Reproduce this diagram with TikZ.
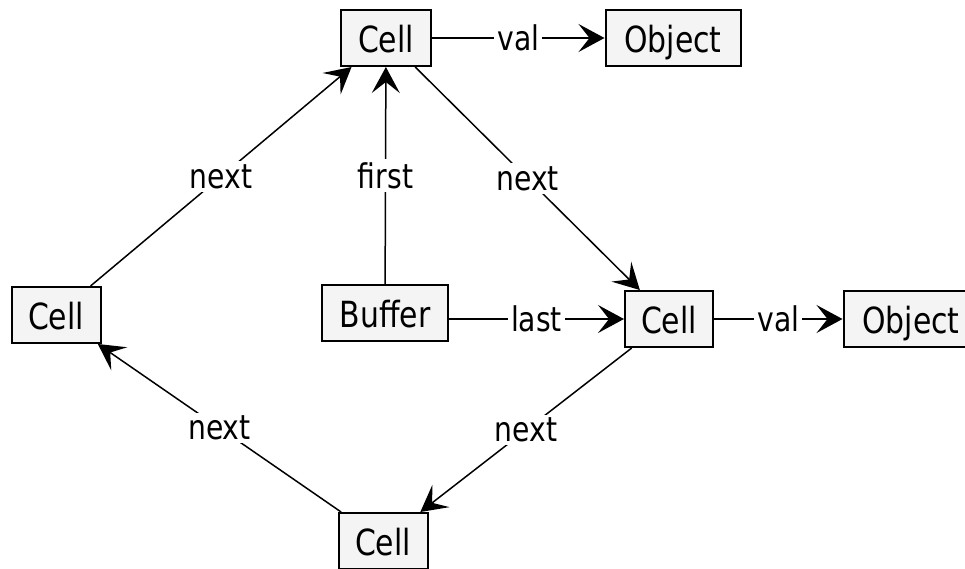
\documentclass[tikz,border=0pt]{standalone}
\usepackage{fontspec}
\setmainfont[FakeStretch=0.83]{DejaVu Sans}
\usetikzlibrary{arrows.meta}
\definecolor{boxgray}{HTML}{F4F4F4}
\begin{document}
\begin{tikzpicture}[x=1pt,y=-1pt,
  box/.style={draw, line width=2pt, fill=boxgray, inner sep=0pt, minimum height=56pt,
    text height=29pt, text depth=0pt, font=\fontsize{36}{40}\selectfont},
  lbl/.style={fill=white, inner sep=3pt, font=\fontsize{34}{38}\selectfont},
  conn/.style={line width=1.5pt, -{Stealth[length=26pt,width=28pt,inset=11pt]}}]
\useasboundingbox (0,0) rectangle (965,568);
\node[box, minimum width=90pt]  (ctop)   at (386,38)  {Cell};
\node[box, minimum width=135pt] (otop)   at (673,38)  {Object};
\node[box, minimum width=89pt]  (cleft)  at (56,315)  {Cell};
\node[box, minimum width=126pt] (buf)    at (385,313) {Buffer};
\node[box, minimum width=88pt]  (cright) at (669,319) {Cell};
\node[box, minimum width=135pt] (oright) at (911,319) {Object};
\node[box, minimum width=89pt]  (cbot)   at (383,541) {Cell};

\draw[conn] (ctop) -- node[lbl] {val} (otop);
\draw[conn] (ctop) -- node[lbl] {next} (cright);
\draw[conn] (buf) -- node[lbl] {first} (ctop);
\draw[conn] (buf.east |- cright.west) -- node[lbl] {last} (cright.west);
\draw[conn] (cright) -- node[lbl] {val} (oright);
\draw[conn] (cright) -- node[lbl] {next} (cbot);
\draw[conn] (cbot) -- node[lbl] {next} (cleft);
\draw[conn] (cleft) -- node[lbl] {next} (ctop);
\end{tikzpicture}
\end{document}
